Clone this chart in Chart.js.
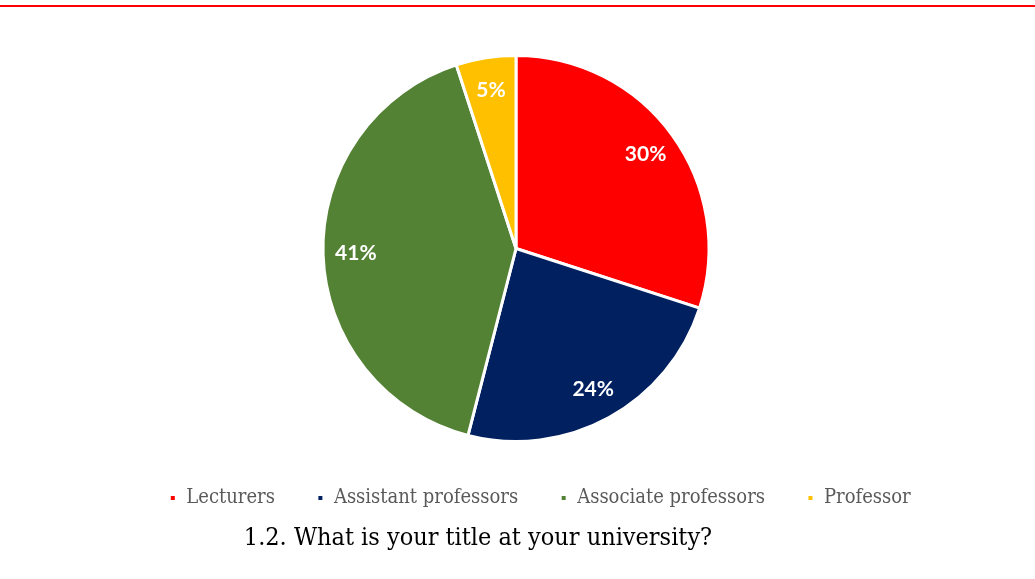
<!DOCTYPE html>
<html>
<head>
<meta charset="utf-8">
<title>Title at university</title>
<script src="https://cdn.jsdelivr.net/npm/chart.js@4/dist/chart.umd.min.js"></script>
<style>
  html, body { margin: 0; padding: 0; background: #fff; }
  #wrap { position: relative; width: 1035px; height: 579px; }
  #rule { position: absolute; left: 0; right: 0; top: 5px; height: 2px; background: #ff0000; }
  canvas { position: absolute; left: 0; top: 0; }
</style>
</head>
<body>
<div id="wrap">
  <canvas id="chart" width="1035" height="579"></canvas>
  <div id="rule"></div>
</div>
<script>
// survey answers, share of respondents in percent
var titles = ["Lecturers", "Assistant professors", "Associate professors", "Professor"];
var shares = [30, 24, 41, 5];
var colors = ["#ff0000", "#002060", "#548235", "#ffc000"];

// white percentage inside each slice
var sliceLabels = {
  id: "sliceLabels",
  afterDatasetsDraw: function(chart) {
    var ctx = chart.ctx;
    var meta = chart.getDatasetMeta(0);
    ctx.save();
    ctx.fillStyle = "#ffffff";
    ctx.font = "bold 21px Lato";
    ctx.textAlign = "center";
    ctx.textBaseline = "middle";
    meta.data.forEach(function(arc, i) {
      var p = arc.getProps(["x", "y", "startAngle", "endAngle", "outerRadius"], true);
      var mid = (p.startAngle + p.endAngle) / 2;
      var r = p.outerRadius * 0.83;
      ctx.fillText(shares[i] + "%", p.x + Math.cos(mid) * r, p.y + Math.sin(mid) * r);
    });
    ctx.restore();
  }
};

// shift legend and title after layout
var nudge = {
  id: "nudge",
  afterLayout: function(chart, args, opts) {
    var lg = chart.legend, tb = chart.titleBlock;
    lg.left += opts.legendX; lg.right += opts.legendX;
    lg.top += opts.legendY; lg.bottom += opts.legendY;
    tb.left += opts.titleX; tb.right += opts.titleX;
  }
};

new Chart(document.getElementById("chart"), {
  type: "pie",
  data: {
    labels: titles,
    datasets: [{
      data: shares,
      backgroundColor: colors,
      borderColor: "#ffffff",
      borderWidth: 3
    }]
  },
  options: {
    responsive: false,
    animation: false,
    layout: { padding: { top: 54, bottom: 0, left: 0, right: 3 } },
    plugins: {
      tooltip: { enabled: false },
      legend: {
        position: "bottom",
        labels: {
          boxWidth: 7,
          boxHeight: 7,
          padding: 42,
          color: "#595959",
          font: { family: "DejaVu Serif Condensed", size: 20 }
        }
      },
      title: {
        display: true,
        position: "bottom",
        text: "1.2. What is your title at your university?",
        color: "#000000",
        font: { family: "DejaVu Serif Condensed", size: 25, weight: "normal" },
        padding: { top: 8, bottom: 26 }
      },
      nudge: { legendX: 24, legendY: 3, titleX: -38 }
    }
  },
  plugins: [sliceLabels, nudge]
});
</script>
</body>
</html>
